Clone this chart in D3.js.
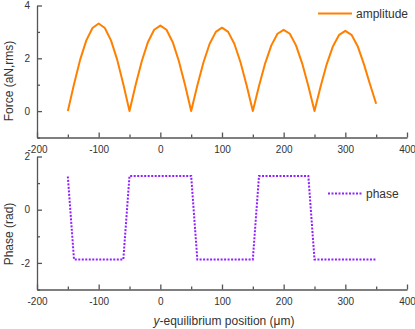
<!DOCTYPE html>
<html>
<head>
<meta charset="utf-8">
<script src="https://cdn.jsdelivr.net/npm/d3@7"></script>
<style>
  body { margin: 0; background: #fff; }
  svg { display: block; font-family: "Liberation Sans", Arial, sans-serif; }
  .axis path, .axis line { stroke: #555; stroke-width: 1.3px; }
  .axis text { fill: #333; font-size: 10px; }
  .title { fill: #333; font-size: 12px; }
</style>
</head>
<body>
<div id="chart-area"></div>
<script>
// positions along y (µm), one every 10
const positions = d3.range(-150, 351, 10);

// amplitude (aN, rms)
const amplitude = [
  0.00, 1.02, 1.95, 2.68, 3.15, 3.32, 3.15, 2.68, 1.95, 1.02,
  0.00, 1.00, 1.90, 2.62, 3.08, 3.24, 3.08, 2.62, 1.90, 1.00,
  0.00, 0.97, 1.85, 2.55, 3.00, 3.16, 3.00, 2.55, 1.85, 0.97,
  0.00, 0.95, 1.81, 2.49, 2.93, 3.08, 2.93, 2.49, 1.81, 0.95,
  0.00, 0.94, 1.79, 2.46, 2.89, 3.04, 2.89, 2.46, 1.79, 1.02,
  0.28
];

// phase (rad)
const phase = [
  1.25, -1.87, -1.87, -1.87, -1.87, -1.87, -1.87, -1.87, -1.87, -1.87,
  1.27, 1.27, 1.27, 1.27, 1.27, 1.27, 1.27, 1.27, 1.27, 1.27,
  1.27, -1.87, -1.87, -1.87, -1.87, -1.87, -1.87, -1.87, -1.87, -1.87,
  -1.87, 1.27, 1.27, 1.27, 1.27, 1.27, 1.27, 1.27, 1.27, 1.27,
  -1.87, -1.87, -1.87, -1.87, -1.87, -1.87, -1.87, -1.87, -1.87, -1.87,
  -1.87
];

const xTicks = [-200, -100, 0, 100, 200, 300, 400];
const xMinor = [-150, -50, 50, 150, 250, 350];
const forceTicks = [0, 2, 4];
const forceMinor = [-1, 1, 3];
const phaseTicks = [-2, 0, 2];
const phaseMinor = [-3, -1, 1];

const W = 415, H = 329;
const svg = d3.select("#chart-area").append("svg")
  .attr("width", W).attr("height", H);

const xScale = d3.scaleLinear().domain([-200, 400]).range([37, 407]);
const fmt = d => String(d);   // plain hyphen minus, as in the original

function panel(yDomain, yRange, ticks, minor, title, titleY) {
  const yScale = d3.scaleLinear().domain(yDomain).range(yRange);
  const g = svg.append("g");

  // x axis: major labelled ticks + short minor ticks, pointing inward
  g.append("g").attr("class", "axis")
    .attr("transform", `translate(0, ${yRange[0]})`)
    .call(d3.axisBottom(xScale).tickValues(xTicks).tickFormat(fmt)
      .tickSize(-5).tickPadding(6).tickSizeOuter(0))
    .call(a => a.selectAll("text").attr("dy", "0.9em"));
  g.append("g").attr("class", "axis")
    .attr("transform", `translate(0, ${yRange[0]})`)
    .call(d3.axisBottom(xScale).tickValues(xMinor).tickSize(-3).tickFormat("").tickSizeOuter(0))
    .call(a => a.select(".domain").remove());

  // y axis
  g.append("g").attr("class", "axis")
    .attr("transform", `translate(${xScale.range()[0]}, 0)`)
    .call(d3.axisLeft(yScale).tickValues(ticks).tickFormat(fmt)
      .tickSize(-5).tickPadding(7).tickSizeOuter(0));
  g.append("g").attr("class", "axis")
    .attr("transform", `translate(${xScale.range()[0]}, 0)`)
    .call(d3.axisLeft(yScale).tickValues(minor).tickSize(-3).tickFormat("").tickSizeOuter(0))
    .call(a => a.select(".domain").remove());

  g.append("text").attr("class", "title")
    .attr("transform", `translate(13, ${titleY}) rotate(-90)`)
    .attr("text-anchor", "middle")
    .text(title);

  return yScale;
}

const yForce = panel([-1, 4], [137.5, 5.5], forceTicks, forceMinor, "Force (aN,rms)", 81);
const yPhase = panel([-3, 2], [289.5, 156.5], phaseTicks, phaseMinor, "Phase (rad)", 234);

const ampLine = d3.line().x((d, i) => xScale(positions[i])).y(d => yForce(d));
svg.append("path")
  .attr("fill", "none")
  .attr("stroke", "#ff8000")
  .attr("stroke-width", 2)
  .attr("stroke-linejoin", "round")
  .attr("d", ampLine(amplitude));

const phaseLine = d3.line().x((d, i) => xScale(positions[i])).y(d => yPhase(d));
svg.append("path")
  .attr("fill", "none")
  .attr("stroke", "#9020ff")
  .attr("stroke-width", 2)
  .attr("stroke-dasharray", "2,1.5")
  .attr("d", phaseLine(phase));

// legends
const legA = svg.append("g");
legA.append("line").attr("x1", 318).attr("x2", 352).attr("y1", 13.5).attr("y2", 13.5)
  .attr("stroke", "#ff8000").attr("stroke-width", 2);
legA.append("text").attr("class", "title").attr("x", 356).attr("y", 18).text("amplitude");

const legP = svg.append("g");
legP.append("line").attr("x1", 328).attr("x2", 362).attr("y1", 193.5).attr("y2", 193.5)
  .attr("stroke", "#9020ff").attr("stroke-width", 2).attr("stroke-dasharray", "2,1.5");
legP.append("text").attr("class", "title").attr("x", 366).attr("y", 198).text("phase");

// x title
const xt = svg.append("text").attr("class", "title")
  .attr("x", 224).attr("y", 325).attr("text-anchor", "middle");
xt.append("tspan").attr("font-style", "italic").text("y");
xt.append("tspan").text("-equilibrium position (\u03bcm)");
</script>
</body>
</html>
